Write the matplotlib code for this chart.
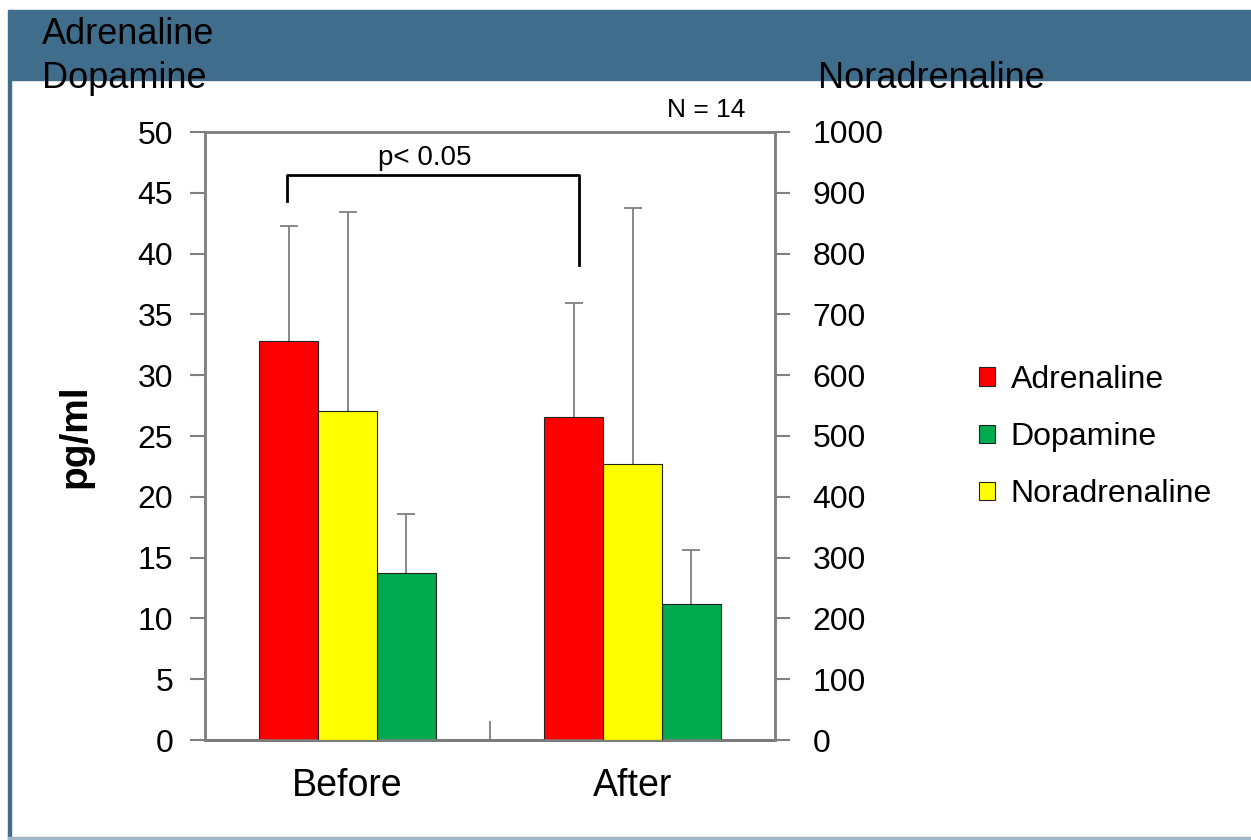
import numpy as np
import matplotlib as mpl
mpl.use("Agg")
import matplotlib.pyplot as plt
from matplotlib.patches import Rectangle

plt.rcParams["font.family"] = ["Liberation Sans", "DejaVu Sans"]

groups = ["Before", "After"]
# left axis (pg/ml)
adrenaline = [32.8, 26.6]
adrenaline_sd = [9.5, 9.3]
dopamine = [13.7, 11.2]
dopamine_sd = [4.9, 4.4]
# right axis (pg/ml)
noradrenaline = [541, 454]
noradrenaline_sd = [327, 421]

left_ticks = [0, 5, 10, 15, 20, 25, 30, 35, 40, 45, 50]
right_ticks = [0, 100, 200, 300, 400, 500, 600, 700, 800, 900, 1000]

red = "#ff0000"
green = "#00aa4f"
yellow = "#ffff00"
grey = "#7f7f7f"

fig = plt.figure(figsize=(12.51, 8.4), dpi=100)

# slide frame: header band and border
fig.patches.append(Rectangle((10 / 1251, 1 - 80 / 840), 1, 70 / 840,
                             transform=fig.transFigure, color="#416d8c", zorder=0))
fig.patches.append(Rectangle((8 / 1251, 0), 3 / 1251, 1 - 10 / 840,
                             transform=fig.transFigure, color="#416d8c", zorder=0))
fig.patches.append(Rectangle((8 / 1251, 0), 1, 3 / 840,
                             transform=fig.transFigure, color="#9fb6c8", zorder=0))

ax = fig.add_axes([205 / 1251, 100 / 840, 570 / 1251, 608 / 840])
ax2 = ax.twinx()

x = np.arange(len(groups))
w = 0.206


def upper_err(a, xpos, mean, sd):
    # one-sided error bar: stem from the bar top up to mean + sd, with a cap
    top = np.asarray(mean) + np.asarray(sd)
    a.vlines(xpos, mean, top, color=grey, lw=1.3, zorder=2)
    a.plot(xpos, top, ls="none", marker="_", ms=13, mew=1.3, color=grey, zorder=2)


ax.bar(x - w, adrenaline, w, color=red, edgecolor="#222222", linewidth=0.8,
       label="Adrenaline", zorder=3)
ax.bar(x + w, dopamine, w, color=green, edgecolor="#222222", linewidth=0.8,
       label="Dopamine", zorder=3)
ax2.bar(x, noradrenaline, w, color=yellow, edgecolor="#222222", linewidth=0.8,
        label="Noradrenaline", zorder=3)
upper_err(ax, x - w, adrenaline, adrenaline_sd)
upper_err(ax, x + w, dopamine, dopamine_sd)
upper_err(ax2, x, noradrenaline, noradrenaline_sd)

ax.set_xlim(-0.5, 1.5)
ax.set_ylim(0, 50)
ax2.set_ylim(0, 1000)
ax.set_yticks(left_ticks)
ax2.set_yticks(right_ticks)
ax.set_xticks([0.5])
ax.set_xticklabels([""])
ax.set_xticks(x, minor=True)
ax.set_xticklabels(groups, minor=True)
ax.tick_params(axis="x", which="major", direction="in", length=14, width=1.3, color=grey)
ax.tick_params(axis="x", which="minor", length=0, pad=20, labelsize=27)
ax.tick_params(axis="y", direction="out", length=11, width=1.5, color=grey, labelsize=23, pad=12)
ax2.tick_params(axis="y", direction="out", length=11, width=1.5, color=grey, labelsize=23, pad=16)

for a in (ax, ax2):
    for s in a.spines.values():
        s.set_color(grey)
        s.set_linewidth(1.8)
ax.spines["bottom"].set_color("#333333")

ax.set_ylabel("pg/ml", fontsize=28, fontweight="bold", labelpad=32)

# significance bracket between Adrenaline bars
bx0, bx1 = -0.213, 0.812
ax.plot([bx0, bx0, bx1, bx1], [44.3, 46.5, 46.5, 39.1], color="black", lw=2, zorder=4)
ax.text((bx0 + bx1) / 2 - 0.03, 46.8, "p< 0.05", ha="center", va="bottom", fontsize=20)
ax.text(1.26, 50.8, "N = 14", ha="center", va="bottom", fontsize=19)

fig.text(42 / 1251, 1 - 35 / 840, "Adrenaline", ha="left", va="center", fontsize=26)
fig.text(42 / 1251, 1 - 79 / 840, "Dopamine", ha="left", va="center", fontsize=26)
fig.text(818 / 1251, 1 - 79 / 840, "Noradrenaline", ha="left", va="center", fontsize=26)

h1, l1 = ax.get_legend_handles_labels()
h2, l2 = ax2.get_legend_handles_labels()
fig.legend(h1 + h2, l1 + l2, loc="center left", bbox_to_anchor=(950 / 1251, 1 - 437 / 840),
           frameon=False, fontsize=23, handlelength=0.5, handleheight=0.5,
           handletextpad=0.5, labelspacing=0.85)

fig.savefig("out.png", dpi=100)
